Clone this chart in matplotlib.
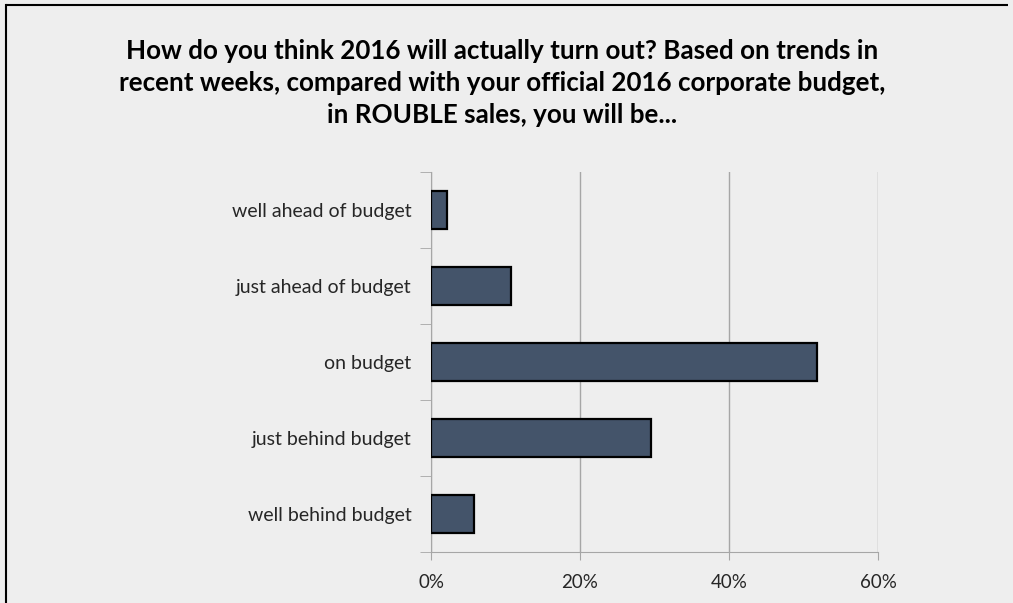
import matplotlib.pyplot as plt
import numpy as np
from matplotlib.ticker import PercentFormatter

# survey answers, top to bottom
categories = ["well ahead of budget", "just ahead of budget", "on budget",
              "just behind budget", "well behind budget"]
shares = [0.022, 0.107, 0.518, 0.295, 0.058]
xticks = [0, 0.2, 0.4, 0.6]

title = ("How do you think 2016 will actually turn out? Based on trends in\n"
         "recent weeks, compared with your official 2016 corporate budget,\n"
         "in ROUBLE sales, you will be...")

plt.rcParams['font.family'] = ['Lato', 'DejaVu Sans']
bg = '#eeeeee'
grey = '#a6a6a6'

fig = plt.figure(figsize=(10.13, 6.03), dpi=100, facecolor=bg)
ax = fig.add_axes([0.4255, 0.0846, 0.4413, 0.6302], facecolor=bg)

y = np.arange(len(categories))
ax.barh(y, shares, height=0.51, color='#44546a', edgecolor='black',
        linewidth=1.6, zorder=3)

ax.set_xlim(0, 0.6)
ax.set_ylim(len(categories) - 0.5, -0.5)
ax.set_xticks(xticks)
ax.xaxis.set_major_formatter(PercentFormatter(1.0, decimals=0))
ax.grid(axis='x', color=grey, linewidth=1.0, zorder=0)

ax.set_yticks(y)
ax.set_yticklabels(categories)
ax.set_yticks(np.arange(-0.5, len(categories)), minor=True)
ax.tick_params(axis='y', which='major', length=0, pad=14, labelsize=14,
               labelcolor='#262626')
ax.tick_params(axis='y', which='minor', length=8, color=grey)
ax.tick_params(axis='x', length=6, color=grey, pad=10, labelsize=13.5,
               labelcolor='#262626')

for side in ('top', 'right'):
    ax.spines[side].set_visible(False)
for side in ('left', 'bottom'):
    ax.spines[side].set_color(grey)

fig.text(0.496, 0.863, title, ha='center', va='center', fontsize=18.7,
         fontweight='bold', linespacing=1.4, color='black')

# chart frame, left and top edges only
fig.add_artist(plt.Line2D([0.0055, 0.0055], [0, 0.9925], color='black',
                          linewidth=1.5, transform=fig.transFigure))
fig.add_artist(plt.Line2D([0.0055, 0.995], [0.9925, 0.9925], color='black',
                          linewidth=1.5, solid_capstyle='butt',
                          transform=fig.transFigure))

fig.savefig('out.png', dpi=100, facecolor=bg)
